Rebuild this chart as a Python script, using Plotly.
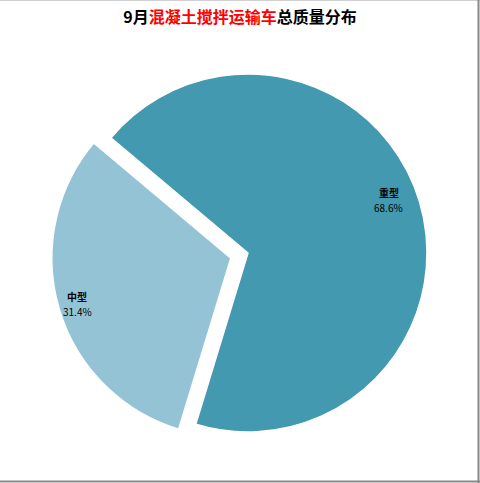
import math
import plotly.graph_objects as go

categories = ["重型", "中型"]
values = [68.6, 31.4]
colors = ["#4299B0", "#93C3D5"]
pulls = [0, 0.1]

W, H = 480, 483
cx, cy = 248, 253       # pie centre in pixels (from top-left)
R = 179                 # radius in pixels
half = R * (1 + max(pulls))
label_r = [0.84, 0.895]     # label distance from centre (fraction of radius)
label_turn = [4, 0]         # small angular nudge of label (degrees)
line_gap = 15               # pixels between the two label lines

fig = go.Figure()
fig.add_trace(go.Pie(
    labels=categories,
    values=values,
    sort=False,
    direction="clockwise",
    rotation=-50,
    pull=pulls,
    marker=dict(colors=colors, line=dict(color="white", width=1.5)),
    textinfo="none",
    hoverinfo="label+percent",
    showlegend=False,
    domain=dict(x=[(cx - half) / W, (cx + half) / W],
                y=[(H - cy - half) / H, (H - cy + half) / H]),
))

# labels near the outer edge of each slice ("inside end")
start = 90 + 50  # math angle of the first slice start
total = sum(values)
ann = []
acc = 0
lab_font = dict(size=10, color="black", family="Noto Sans CJK SC")
for i, (cat, v, p) in enumerate(zip(categories, values, pulls)):
    mid = start - (acc + v / 2) / total * 360 + label_turn[i]
    acc += v
    rr = R * (label_r[i] + p)
    x = cx + rr * math.cos(math.radians(mid))
    y = cy - rr * math.sin(math.radians(mid))
    for txt, dy in ((f"<b>{cat}</b>", -line_gap / 2), (f"{v:.1f}%", line_gap / 2)):
        ann.append(dict(
            x=x / W, y=1 - (y + dy) / H, xref="paper", yref="paper",
            xanchor="center", yanchor="middle",
            text=txt, showarrow=False, font=lab_font,
        ))

fig.update_layout(
    width=W, height=H,
    margin=dict(l=0, r=0, t=0, b=0),
    paper_bgcolor="white",
    plot_bgcolor="white",
    font=dict(family="Noto Sans CJK SC"),
    title=dict(
        text="<b>9月<span style='color:#FF0000'>混凝土搅拌运输车</span>总质量分布</b>",
        x=0.5, xanchor="center", y=1 - 17 / H, yanchor="middle",
        font=dict(size=16, color="black", family="Noto Sans CJK SC"),
    ),
    annotations=ann,
    shapes=[
        dict(type="line", xref="paper", yref="paper", x0=0, y0=1 - 0.5 / H, x1=1, y1=1 - 0.5 / H,
             line=dict(color="#D0D0D0", width=1)),
        dict(type="line", xref="paper", yref="paper", x0=1 - 1.5 / W, y0=0, x1=1 - 1.5 / W, y1=1,
             line=dict(color="#888888", width=2)),
        dict(type="line", xref="paper", yref="paper", x0=0, y0=1.5 / H, x1=1, y1=1.5 / H,
             line=dict(color="#888888", width=2)),
    ],
)

fig.write_html(
    "out.html",
    config={"displayModeBar": False},
    post_script="document.body.style.margin='0';document.body.style.overflow='hidden';",
)
